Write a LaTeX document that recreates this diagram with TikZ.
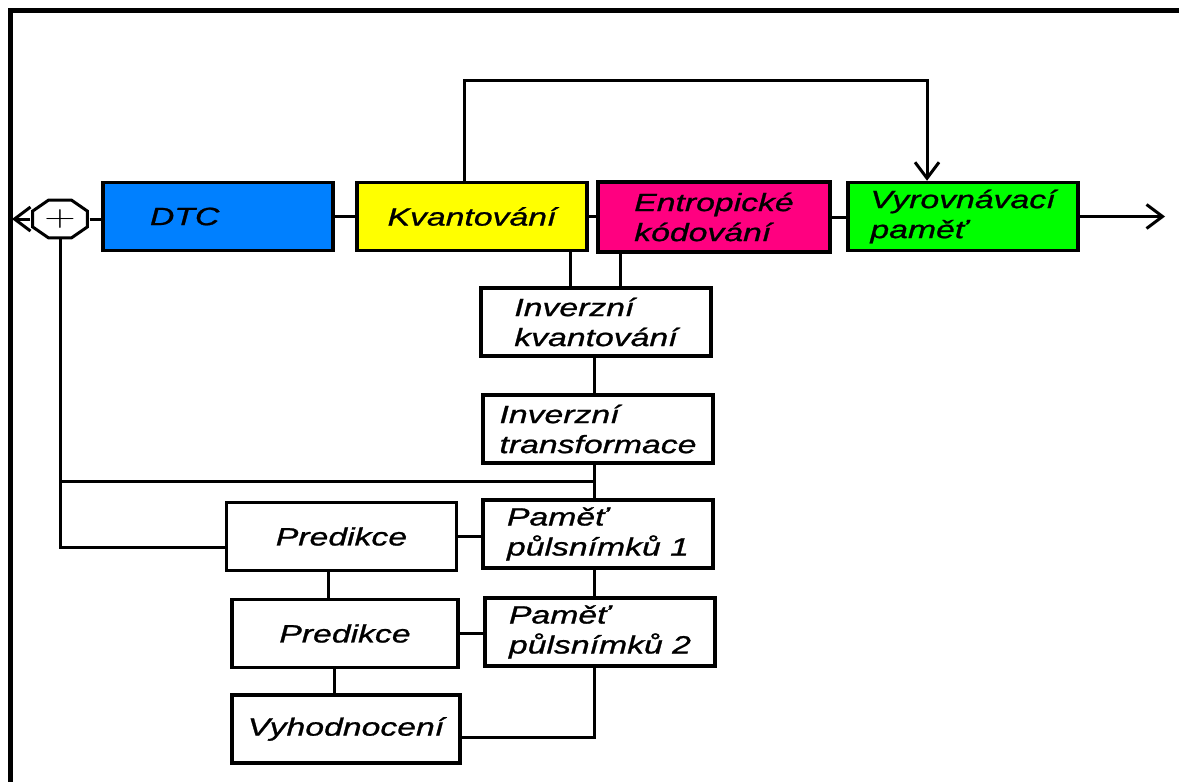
\documentclass[tikz,border=0pt]{standalone}
\usepackage{fontspec}
\usepackage{xcolor}
\usetikzlibrary{arrows, arrows.meta, shapes.geometric}
\newfontfamily\blokfont[FakeStretch=1.35,FakeBold=1]{Liberation Sans}
\definecolor{dtcmodra}{RGB}{0,128,255}
\definecolor{kvzluta}{RGB}{255,255,0}
\definecolor{entruzova}{RGB}{255,0,128}
\definecolor{vyrzelena}{RGB}{0,255,0}

\begin{document}
\begin{tikzpicture}[x=1pt,y=-1pt,
  >={Straight Barb[length=16pt,width=24pt]},
  blok/.style={draw, line width=3.5pt, minimum width=230pt, minimum height=68pt,
    inner ysep=0pt, align=left, font=\blokfont\itshape\fontsize{25}{30}\selectfont},
  spoj/.style={line width=3pt}]
\useasboundingbox (0,0) rectangle (1179,782);
% ramecek
\draw[line width=5pt] (10,782) -- (10,10) -- (1179,10);
% horni rada
\node[draw, line width=3pt, fill=white, regular polygon, regular polygon sides=8,
  minimum size=41pt, inner sep=0pt, xscale=1.45] (suma) at (60,219) {\fontsize{30}{30}\selectfont +};
\node[blok, fill=dtcmodra, text width=136pt, inner xsep=47pt] (dtc) at (218,216.5) {DTC};
\node[blok, fill=kvzluta] (kvant) at (472,216.5) {Kvantování};
\node[blok, fill=entruzova, minimum width=232pt, minimum height=70pt] (entr) at (714,217) {Entropické\\kódování};
\node[blok, fill=vyrzelena] (vyr) at (963,216.5) {Vyrovnávací\\paměť};
% zpetna vetev
\node[blok] (invk) at (596,322) {Inverzní\\kvantování};
\node[blok] (invt) at (598,429) {Inverzní\\transformace};
\node[blok] (pred1) at (341.5,536.5) {Predikce};
\node[blok] (pam1) at (598,534) {Paměť\\půlsnímků 1};
\node[blok, minimum width=226pt] (pred2) at (345,633.5) {Predikce};
\node[blok] (pam2) at (600,632) {Paměť\\půlsnímků 2};
\node[blok, minimum width=228pt] (vyh) at (346,729) {Vyhodnocení};
% pomocne body
\coordinate (ram) at (12,0);
\coordinate (vystup) at (1165,0);
\coordinate (obtL) at (464,80);
\coordinate (obtP) at (927,80);
\coordinate (xkv) at (570,0);
\coordinate (xen) at (620,0);
\coordinate (xst) at (594,0);
\coordinate (xp1) at (328,0);
\coordinate (xp2) at (334,0);
\coordinate (ydel) at (0,481);
\coordinate (ypr) at (0,547);
\coordinate (yvy) at (0,737);
% hlavni vetev
\draw[spoj, ->] (suma.west) -- (suma.west -| ram);
\draw[spoj] (suma.east) -- (suma.east -| dtc.west);
\draw[spoj] (dtc.east) -- (kvant.west);
\draw[spoj] (kvant.east) -- (kvant.east -| entr.west);
\draw[spoj] (entr.east) -- (entr.east -| vyr.west);
\draw[spoj, ->] (vyr.east) -- (vyr.east -| vystup);
\draw[spoj, ->] (obtL |- kvant.north) -- (obtL) -- (obtP) -- (obtP |- vyr.north);
% zpetna vazba
\draw[spoj] (xkv |- kvant.south) -- (xkv |- invk.north);
\draw[spoj] (xen |- entr.south) -- (xen |- invk.north);
\draw[spoj] (xst |- invk.south) -- (xst |- invt.north);
\draw[spoj] (xst |- invt.south) -- (xst |- pam1.north);
\draw[spoj] (xst |- ydel) -- (suma.south |- ydel);
\draw[spoj] (suma.south) -- (suma.south |- ypr) -- (pred1.west |- ypr);
\draw[spoj] (pred1.east) -- (pred1.east -| pam1.west);
\draw[spoj] (xp1 |- pred1.south) -- (xp1 |- pred2.north);
\draw[spoj] (xst |- pam1.south) -- (xst |- pam2.north);
\draw[spoj] (pred2.east) -- (pred2.east -| pam2.west);
\draw[spoj] (xp2 |- pred2.south) -- (xp2 |- vyh.north);
\draw[spoj] (xst |- pam2.south) -- (xst |- yvy) -- (vyh.east |- yvy);
\end{tikzpicture}
\end{document}
